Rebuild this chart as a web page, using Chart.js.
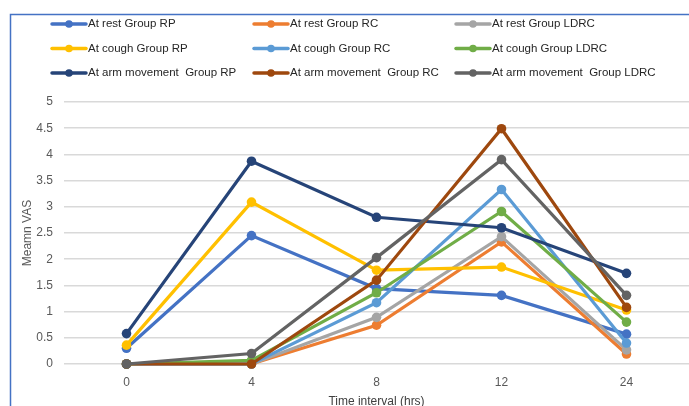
<!DOCTYPE html>
<html>
<head>
<meta charset="utf-8">
<script src="https://cdn.jsdelivr.net/npm/chart.js@4"></script>
<style>
html,body{margin:0;padding:0;background:#fff;}
#wrap{width:689px;height:406px;position:relative;}
</style>
</head>
<body>
<div id="wrap"><canvas id="c" width="689" height="406"></canvas></div>
<script>
const categories = ['0', '4', '8', '12', '24'];
const seriesNames = [
  'At rest Group RP', 'At rest Group RC', 'At rest Group LDRC',
  'At cough Group RP', 'At cough Group RC', 'At cough Group LDRC',
  'At arm movement  Group RP', 'At arm movement  Group RC', 'At arm movement  Group LDRC'
];
const restRP   = [0.30, 2.45, 1.44, 1.31, 0.57];
const restRC   = [0.00, 0.00, 0.74, 2.33, 0.19];
const restLDRC = [0.00, 0.00, 0.89, 2.43, 0.27];
const coughRP   = [0.36, 3.09, 1.79, 1.85, 1.03];
const coughRC   = [0.00, 0.00, 1.17, 3.33, 0.40];
const coughLDRC = [0.00, 0.07, 1.36, 2.91, 0.80];
const armRP   = [0.58, 3.87, 2.80, 2.60, 1.73];
const armRC   = [0.00, 0.00, 1.60, 4.49, 1.08];
const armLDRC = [0.00, 0.20, 2.03, 3.90, 1.31];
const yTicks = [0, 0.5, 1, 1.5, 2, 2.5, 3, 3.5, 4, 4.5, 5];
const colors = ['#4472C4', '#ED7D31', '#A5A5A5', '#FFC000', '#5B9BD5', '#70AD47', '#264478', '#9E480E', '#636363'];
const seriesData = [restRP, restRC, restLDRC, coughRP, coughRC, coughLDRC, armRP, armRC, armLDRC];

const FONT = '"Liberation Sans", Arial, sans-serif';

const frame = {
  id: 'frame',
  beforeDraw(chart) {
    const ctx = chart.ctx;
    ctx.save();
    ctx.fillStyle = '#fff';
    ctx.fillRect(0, 0, chart.width, chart.height);
    ctx.strokeStyle = '#4472C4';
    ctx.lineWidth = 1.5;
    ctx.strokeRect(10.5, 14.5, 800, 600);
    ctx.restore();
  }
};

const legendGrid = {
  id: 'legendGrid',
  afterDraw(chart) {
    const ctx = chart.ctx;
    ctx.save();
    chart.data.datasets.forEach((ds, i) => {
      const col = i % 3, row = Math.floor(i / 3);
      const x0 = 52 + col * 202;
      const y = 24 + row * 24.5;
      ctx.strokeStyle = ds.borderColor;
      ctx.lineWidth = 3.5;
      ctx.lineCap = 'round';
      ctx.beginPath();
      ctx.moveTo(x0, y);
      ctx.lineTo(x0 + 34, y);
      ctx.stroke();
      ctx.fillStyle = ds.borderColor;
      ctx.beginPath();
      ctx.arc(x0 + 17, y, 3.8, 0, Math.PI * 2);
      ctx.fill();
      ctx.fillStyle = '#262626';
      ctx.font = '11.5px ' + FONT;
      ctx.textBaseline = 'middle';
      ctx.textAlign = 'left';
      ctx.fillText(ds.label, x0 + 36, y);
    });
    ctx.restore();
  }
};

new Chart(document.getElementById('c'), {
  type: 'line',
  data: {
    labels: categories,
    datasets: seriesData.map((d, i) => ({
      label: seriesNames[i],
      data: d,
      order: -i,
      borderColor: colors[i],
      backgroundColor: colors[i],
      borderWidth: 3.2,
      pointRadius: 4.8,
      pointHoverRadius: 4.8,
      pointBorderWidth: 0,
      tension: 0,
      fill: false,
      clip: false
    }))
  },
  options: {
    responsive: false,
    animation: false,
    devicePixelRatio: 1,
    layout: { autoPadding: false, padding: { left: 10, right: 0, top: 102, bottom: 0 } },
    plugins: {
      legend: { display: false },
      tooltip: { enabled: false },
      title: { display: false }
    },
    scales: {
      x: {
        type: 'category',
        offset: true,
        grid: { display: false, drawTicks: false },
        border: { display: false },
        ticks: { color: '#595959', font: { family: FONT, size: 12 }, padding: 11 },
        title: { display: true, text: 'Time interval (hrs)', color: '#404040', font: { family: FONT, size: 12 }, padding: { top: 4, bottom: -3 } },
        afterFit(s) { s.height = 42; s.paddingLeft = 0; s.paddingRight = 0; }
      },
      y: {
        min: 0, max: 5,
        afterBuildTicks(s) { s.ticks = yTicks.map(v => ({ value: v })); },
        grid: { color: '#D9D9D9', lineWidth: 1.5, drawTicks: false },
        border: { display: false },
        ticks: { color: '#595959', font: { family: FONT, size: 12 }, padding: 11, callback: v => String(v) },
        title: { display: true, text: 'Meamn VAS', color: '#595959', font: { family: FONT, size: 12 }, padding: { top: 10, bottom: 0 } },
        afterFit(s) { s.width = 54; }
      }
    }
  },
  plugins: [frame, legendGrid]
});
</script>
</body>
</html>
